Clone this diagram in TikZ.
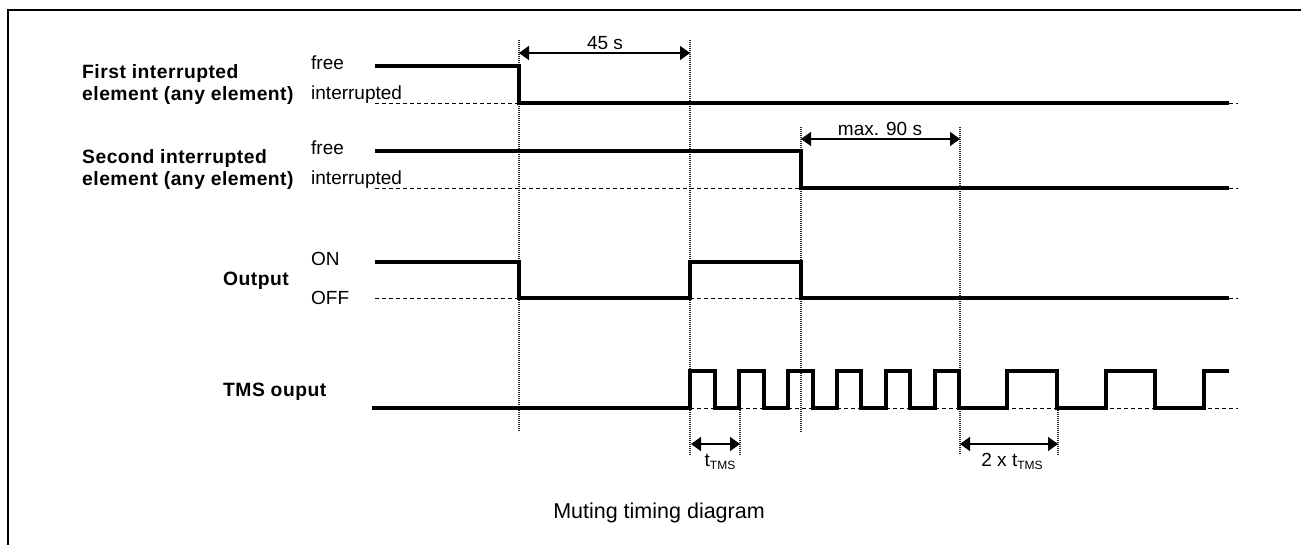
\documentclass[tikz,border=0pt]{standalone}
\usepackage{fontspec}
\setmainfont{Liberation Sans}
\newfontfamily\lblfont[LetterSpace=2.5]{Liberation Sans}
\usetikzlibrary{arrows.meta}
\begin{document}
\begin{tikzpicture}[x=1pt,y=-1pt,
  frame/.style={line width=2pt},
  sig/.style={line width=4.4pt, line join=miter},
  base/.style={line width=0.9pt, dash pattern=on 4pt off 3pt},
  guide/.style={line width=1.3pt, black!85, dash pattern=on 1pt off 1pt},
  dim/.style={line width=1.6pt, {Triangle[length=10pt,width=14pt]}-{Triangle[length=10pt,width=14pt]}},
  lvl/.style={anchor=base west, inner sep=0pt, font=\fontsize{19}{21}\selectfont},
  sname/.style={anchor=base west, inner sep=0pt, font=\lblfont\bfseries\fontsize{19.3}{22}\selectfont},
  dimlbl/.style={anchor=base, inner sep=0pt, font=\fontsize{19}{21}\selectfont}]
\useasboundingbox (0,0) rectangle (1301,545);

% frame (top and left edges)
\draw[frame] (8,545) -- (8,10) -- (1301,10);

% event instants
\coordinate (g1t) at (519,40);  \coordinate (g1b) at (519,432);
\coordinate (g2t) at (690,40);  \coordinate (g2b) at (690,455);
\coordinate (g3t) at (801,127); \coordinate (g3b) at (801,432);
\coordinate (g4t) at (960,127); \coordinate (g4b) at (960,455);
\coordinate (g5t) at (740,408); \coordinate (g5b) at (740,455);
\coordinate (g6t) at (1058,408);\coordinate (g6b) at (1058,455);

% dotted guide lines
\draw[guide] (g1t) -- (g1b);
\draw[guide] (g2t) -- (g2b);
\draw[guide] (g3t) -- (g3b);
\draw[guide] (g4t) -- (g4b);
\draw[guide] (g5t) -- (g5b);
\draw[guide] (g6t) -- (g6b);

% dashed low-level references
\draw[base] (375,103) -- (1238,103);
\draw[base] (375,188) -- (1238,188);
\draw[base] (375,298) -- (1238,298);
\draw[base] (375,408) -- (1238,408);

% signal traces
\draw[sig] (375,66) -- (519,66) -- (519,103) -- (1229,103);
\draw[sig] (375,151) -- (801,151) -- (801,188) -- (1229,188);
\draw[sig] (375,262) -- (519,262) -- (519,298) -- (690,298) -- (690,262)
           -- (801,262) -- (801,298) -- (1229,298);
\draw[sig] (372,408) -- (690,408)
  -- (690,371) -- (715,371) -- (715,408) -- (739,408)
  -- (739,371) -- (764,371) -- (764,408) -- (788,408)
  -- (788,371) -- (813,371) -- (813,408) -- (837,408)
  -- (837,371) -- (861,371) -- (861,408) -- (886,408)
  -- (886,371) -- (910,371) -- (910,408) -- (935,408)
  -- (935,371) -- (959,371) -- (959,408) -- (1007,408)
  -- (1007,371) -- (1057,371) -- (1057,408) -- (1106,408)
  -- (1106,371) -- (1155,371) -- (1155,408) -- (1204,408)
  -- (1204,371) -- (1229,371);

% dimension arrows
\coordinate (d1a) at (519,53);  \coordinate (d1b) at (690,53);
\coordinate (d2a) at (801,139); \coordinate (d2b) at (960,139);
\coordinate (d3a) at (691,444); \coordinate (d3b) at (740,444);
\coordinate (d4a) at (960,444); \coordinate (d4b) at (1058,444);
\draw[dim] (d1a) -- (d1b);
\draw[dim] (d2a) -- (d2b);
\draw[dim] (d3a) -- (d3b);
\draw[dim] (d4a) -- (d4b);
\node[dimlbl] (l45) at (605,50) {45 s};
\node[dimlbl] (l90) at (880,136) {max. 90 s};
\node[dimlbl] (ltms) at (720,466) {t\raisebox{-3.5pt}{\fontsize{12}{12}\selectfont TMS}};
\node[dimlbl] (l2tms) at (1012,466) {2 x t\raisebox{-3.5pt}{\fontsize{12}{12}\selectfont TMS}};

% signal names
\node[sname] (n1a) at (82,79)  {First interrupted};
\node[sname] (n1b) at (82,101) {element (any element)};
\node[sname] (n2a) at (82,164) {Second interrupted};
\node[sname] (n2b) at (82,186) {element (any element)};
\node[sname] (n3)  at (223,286) {Output};
\node[sname] (n4)  at (223,396) {TMS ouput};

% level names
\node[lvl] (v1a) at (311,70)  {free};
\node[lvl] (v1b) at (311,100) {interrupted};
\node[lvl] (v2a) at (311,155) {free};
\node[lvl] (v2b) at (311,185) {interrupted};
\node[lvl] (v3a) at (311,266) {ON};
\node[lvl] (v3b) at (311,305) {OFF};

% caption
\node[anchor=base, inner sep=0pt, font=\fontsize{21.5}{25}\selectfont] (cap) at (659,518) {Muting timing diagram};
\end{tikzpicture}
\end{document}
